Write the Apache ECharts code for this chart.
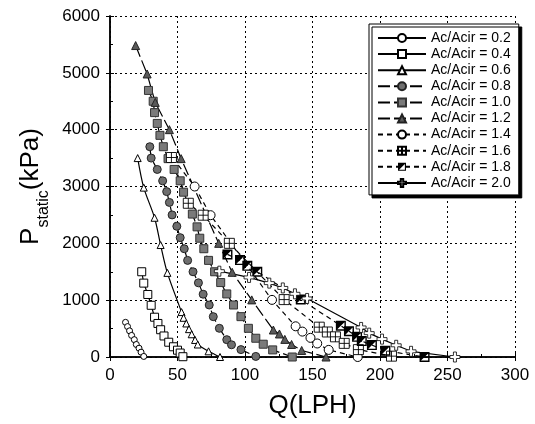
<!DOCTYPE html>
<html><head><meta charset="utf-8">
<script src="https://cdn.jsdelivr.net/npm/echarts@6/dist/echarts.min.js"></script>
<style>html,body{margin:0;padding:0;background:#fff}#c{width:535px;height:424px}</style>
</head><body><div id="c"></div>
<script>
const seriesNames = ['Ac/Acir = 0.2','Ac/Acir = 0.4','Ac/Acir = 0.6','Ac/Acir = 0.8','Ac/Acir = 1.0','Ac/Acir = 1.2','Ac/Acir = 1.4','Ac/Acir = 1.6','Ac/Acir = 1.8','Ac/Acir = 2.0'];
const xTicks = [0,50,100,150,200,250,300];
const yTicks = [0,1000,2000,3000,4000,5000,6000];
const s02 = [[11.5,610],[13,535],[14.5,460],[16,380],[18,305],[19.5,220],[21.5,155],[23,85],[25,10]];
const s04 = [[23.5,1500],[25,1300],[28,1100],[30.5,910],[33,700],[35.5,590],[37.5,480],[40,370],[43.5,260],[47,180],[50,120],[52,70],[54,5]];
const s06 = [[20.5,3500],[25,2980],[33,2450],[37.5,1970],[42.5,1480],[53,790],[54.5,690],[56.5,590],[58.5,490],[60.5,400],[63,300],[65,220],[73,100],[81.5,0]];
const s08 = [[29.5,3700],[30.5,3500],[35,3300],[39,3100],[42,2910],[44,2720],[46,2500],[49.5,2300],[52,2100],[55,1905],[57.5,1700],[61.5,1500],[65.5,1305],[69,1105],[73.5,915],[76.5,710],[81,505],[86.5,305],[90,215],[97,130],[108,10]];
const s10 = [[28.5,4690],[32,4500],[33,4300],[35,4110],[37,3900],[39.5,3700],[43,3490],[47.5,3300],[52,3100],[54.5,2900],[61,2515],[64.5,2290],[66.5,2090],[69.5,1905],[73,1700],[77.5,1500],[82,1310],[86.5,1110],[91.5,915],[97,710],[102.5,505],[108,330],[113.5,225],[120.5,125],[135,0]];
const s12 = [[19,5480],[27.5,4980],[33.5,4480],[44,4000],[52.7,3490],[80.5,2000],[90.5,1490],[105,1005],[121,475],[125.5,405],[129.5,310],[134.5,220],[142,115],[160,0]];
const s14 = [[46.5,3500],[62.7,3000],[74.5,2495],[120,1005],[137.5,540],[142.5,447],[148.5,337],[153.5,238],[162,125],[183.5,0]];
const s16 = [[45.5,3510],[58,2705],[69,2495],[88.4,2000],[129,1010],[155,525],[161,440],[167,355],[173.5,240],[184,130],[208.5,15]];
const s18 = [[87,1805],[96.3,1705],[101.7,1605],[109.1,1500],[141.3,1013],[171,550],[177,455],[183,355],[186.5,280],[194,210],[204,110],[233,0]];
const s20 = [[81,1510],[103,1400],[118,1300],[128,1215],[137,1112],[146,1030],[186,520],[192,420],[201.5,315],[212,206],[223,100],[255.5,0]];
const allData = [s02,s04,s06,s08,s10,s12,s14,s16,s18,s20];

const gridSym = 'path://M0 0H10V10H0Z M5 0V10 M0 5H10';
const halfSym = 'path://M0 0H10V10H0Z M1.4 1.4V8.6H8.6V1.4Z M1.4 1.4H8.6L1.4 8.6Z';
const plusSym = 'path://M3.5 0H6.5V3.5H10V6.5H6.5V10H3.5V6.5H0V3.5H3.5Z';

const styles = [
  {sym:'circle', size:6, fill:'#fff', border:'#000', bw:1, line:'solid', smooth:false},
  {sym:'rect', size:8, fill:'#fff', border:'#000', bw:1, line:'solid', smooth:false},
  {sym:'triangle', size:7, fill:'#fff', border:'#000', bw:1, line:'solid', smooth:true},
  {sym:'circle', size:8, fill:'#6e6e6e', border:'#222', bw:1, line:[12,4], smooth:false},
  {sym:'rect', size:8, fill:'#7a7a7a', border:'#333', bw:1, line:[12,4], smooth:false},
  {sym:'triangle', size:8, fill:'#5a5a5a', border:'#222', bw:1, line:[12,4], smooth:false},
  {sym:'circle', size:9, fill:'#fff', border:'#000', bw:1, line:[5,4], smooth:false},
  {sym:gridSym, size:10, fill:'#fff', border:'#000', bw:0.9, line:[5,4], smooth:false},
  {sym:halfSym, size:10, fill:'#000', border:null, bw:0, line:[5,4], smooth:false},
  {sym:plusSym, size:10, fill:'#fff', border:'#000', bw:0.8, line:'solid', smooth:false}
];

const series = allData.map((d,i)=>{
  const st = styles[i];
  const item = {color: st.fill};
  if (st.border) { item.borderColor = st.border; item.borderWidth = st.bw; }
  return {
    name: seriesNames[i], type:'line', data:d, symbol:st.sym, symbolSize:st.size,
    smooth: st.smooth ? 0.3 : false, showSymbol:true,
    lineStyle:{color:'#000', width:1.2, type:st.line},
    itemStyle:item, emphasis:{disabled:true}, animation:false, z: 2
  };
});

const chart = echarts.init(document.getElementById('c'), null, {renderer:'canvas'});
const font = "Arial, 'Liberation Sans', sans-serif";
chart.setOption({
  backgroundColor:'#fff',
  animation:false,
  grid:{left:110, right:20, top:16, bottom:65, show:false},
  xAxis:[{
    type:'value', min:xTicks[0], max:xTicks[xTicks.length-1], interval:50,
    name:'Q(LPH)', nameLocation:'middle', nameGap:36,
    nameTextStyle:{fontSize:26, color:'#000', fontFamily:font},
    axisLine:{show:true, lineStyle:{color:'#000', width:1.5}},
    axisTick:{show:true, inside:true, length:4, lineStyle:{color:'#000'}},
    minorTick:{show:true, splitNumber:2, length:3, lineStyle:{color:'#000'}},
    axisLabel:{fontSize:17, color:'#000', fontFamily:font, margin:10, formatter:v=>String(v)},
    splitLine:{show:true, lineStyle:{color:'#000', type:[2,3], width:1}}
  },{
    type:'value', position:'top', min:0, max:300, interval:50,
    axisLine:{show:true, lineStyle:{color:'#000', width:1.5}},
    axisTick:{show:true, inside:true, length:4, lineStyle:{color:'#000'}},
    axisLabel:{show:false}, splitLine:{show:false}
  }],
  yAxis:[{
    type:'value', min:yTicks[0], max:yTicks[yTicks.length-1], interval:1000,
    name:'{a|P}{b|static}{a|(kPa)}', nameLocation:'middle', nameGap:62, nameRotate:90,
    nameTextStyle:{color:'#000', fontFamily:font, rich:{
      a:{fontSize:26, color:'#000', fontFamily:font, verticalAlign:'bottom'},
      b:{fontSize:16, color:'#000', fontFamily:font, verticalAlign:'bottom', padding:[0,0,-7,0]}
    }},
    axisLine:{show:true, lineStyle:{color:'#000', width:1.5}},
    axisTick:{show:true, inside:true, length:4, lineStyle:{color:'#000'}},
    minorTick:{show:true, splitNumber:2, length:3, lineStyle:{color:'#000'}},
    axisLabel:{fontSize:17, color:'#000', fontFamily:font, margin:10, formatter:v=>String(v)},
    splitLine:{show:true, lineStyle:{color:'#000', type:[2,3], width:1}}
  },{
    type:'value', position:'right', min:0, max:6000, interval:1000,
    axisLine:{show:true, lineStyle:{color:'#000', width:1.5}},
    axisTick:{show:true, inside:true, length:4, lineStyle:{color:'#000'}},
    axisLabel:{show:false}, splitLine:{show:false}
  }],
  legend:{
    orient:'vertical', left:369, top:24, padding:[7,8,5,8],
    backgroundColor:'#fff', borderColor:'#000', borderWidth:1,
    shadowColor:'#000', shadowOffsetX:3, shadowOffsetY:3, shadowBlur:0,
    itemWidth:48, itemHeight:10, itemGap:2.1,
    textStyle:{fontSize:14, lineHeight:14, color:'#000', fontFamily:font},
    data: seriesNames
  },
  series: series
});
</script></body></html>
